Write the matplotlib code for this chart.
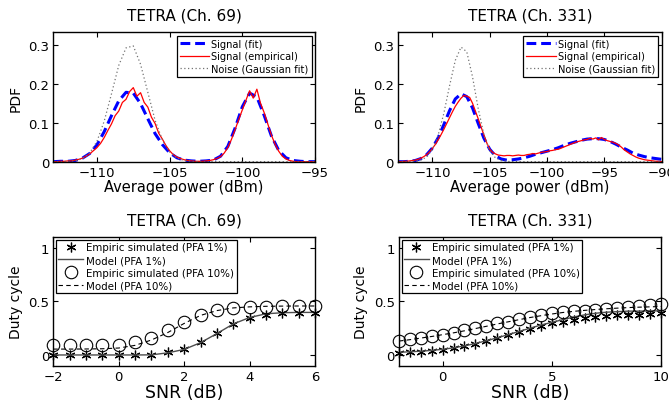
import numpy as np
import matplotlib
matplotlib.use("Agg")
import matplotlib.pyplot as plt
from matplotlib.ticker import FuncFormatter

plt.rcParams.update({
    "font.family": "DejaVu Sans",
    "axes.linewidth": 1.0,
    "xtick.direction": "in",
    "ytick.direction": "in",
    "xtick.top": True,
    "ytick.right": True,
    "xtick.major.size": 3.5,
    "ytick.major.size": 3.5,
    "xtick.major.width": 0.8,
    "ytick.major.width": 0.8,
    "xtick.labelsize": 9.5,
    "ytick.labelsize": 9.5,
})

# ---------------- top panels: PDF of average power ----------------
# Ch. 69 (x grid -113..-95)
x_fit_69 = np.arange(-113, -94.99, 0.5)
fit_69 = [
    0.000, 0.001, 0.001, 0.003,
    0.009, 0.021, 0.043, 0.077,
    0.118, 0.156, 0.178, 0.176,
    0.149, 0.110, 0.072, 0.044,
    0.023, 0.010, 0.004, 0.002,
    0.001, 0.002, 0.004, 0.014,
    0.039, 0.086, 0.141, 0.176,
    0.166, 0.119, 0.066, 0.029,
    0.010, 0.003, 0.001, 0.000,
    0.000,
]
noise_69 = [
    0.000, 0.000, 0.001, 0.002,
    0.008, 0.022, 0.052, 0.104,
    0.174, 0.247, 0.292, 0.297,
    0.250, 0.178, 0.106, 0.056,
    0.025, 0.009, 0.003, 0.001,
    0.000, 0.000, 0.000, 0.000,
    0.000, 0.000, 0.000, 0.000,
    0.000, 0.000, 0.000, 0.000,
    0.000, 0.000, 0.000, 0.000,
    0.000,
]
x_emp_69 = np.arange(-113, -94.99, 0.25)
emp_69 = [
    0.000, 0.000, 0.001, 0.001, 0.002, 0.002, 0.004, 0.006,
    0.009, 0.014, 0.020, 0.028, 0.036, 0.047, 0.062, 0.080,
    0.097, 0.118, 0.130, 0.152, 0.160, 0.180, 0.190, 0.168,
    0.177, 0.152, 0.140, 0.114, 0.098, 0.073, 0.058, 0.041,
    0.028, 0.018, 0.012, 0.008, 0.005, 0.003, 0.002, 0.001,
    0.001, 0.001, 0.002, 0.003, 0.005, 0.008, 0.013, 0.022,
    0.036, 0.057, 0.082, 0.108, 0.133, 0.158, 0.182, 0.163,
    0.186, 0.150, 0.126, 0.097, 0.068, 0.045, 0.027, 0.014,
    0.007, 0.003, 0.001, 0.000, 0.000, 0.000, 0.000, 0.000,
    0.000,
]

# Ch. 331 (x grid -113..-90)
x_fit_331 = np.arange(-113, -89.99, 0.5)
fit_331 = [
    0.000, 0.000, 0.001, 0.003,
    0.008, 0.018, 0.035, 0.061,
    0.095, 0.131, 0.161, 0.174,
    0.167, 0.138, 0.098, 0.060,
    0.032, 0.015, 0.007, 0.004,
    0.005, 0.007, 0.010, 0.014,
    0.019, 0.023, 0.027, 0.031,
    0.036, 0.042, 0.047, 0.051,
    0.055, 0.058, 0.059, 0.059,
    0.057, 0.052, 0.045, 0.037,
    0.030, 0.022, 0.017, 0.013,
    0.010, 0.008, 0.006,
]
noise_331 = [
    0.000, 0.000, 0.000, 0.001,
    0.004, 0.012, 0.031, 0.068,
    0.124, 0.195, 0.260, 0.294,
    0.282, 0.218, 0.136, 0.069,
    0.028, 0.010, 0.003, 0.001,
    0.000, 0.000, 0.000, 0.000,
    0.000, 0.000, 0.000, 0.000,
    0.000, 0.000, 0.000, 0.000,
    0.000, 0.000, 0.000, 0.000,
    0.000, 0.000, 0.000, 0.000,
    0.000, 0.000, 0.000, 0.000,
    0.000, 0.000, 0.000,
]
x_emp_331 = np.arange(-113, -89.99, 0.25)
emp_331 = [
    0.000, 0.000, 0.001, 0.001, 0.002, 0.003, 0.004, 0.006,
    0.009, 0.013, 0.018, 0.025, 0.034, 0.044, 0.056, 0.069,
    0.083, 0.098, 0.113, 0.128, 0.142, 0.153, 0.163, 0.170,
    0.168, 0.165, 0.150, 0.130, 0.110, 0.089, 0.068, 0.048,
    0.032, 0.024, 0.020, 0.017, 0.016, 0.015, 0.016, 0.016,
    0.015, 0.016, 0.017, 0.016, 0.016, 0.018, 0.019, 0.021,
    0.020, 0.022, 0.024, 0.025, 0.026, 0.028, 0.029, 0.031,
    0.032, 0.035, 0.038, 0.041, 0.044, 0.047, 0.050, 0.052,
    0.054, 0.056, 0.057, 0.060, 0.058, 0.061, 0.056, 0.062,
    0.057, 0.054, 0.052, 0.050, 0.047, 0.043, 0.037, 0.030,
    0.025, 0.020, 0.016, 0.012, 0.009, 0.007, 0.005, 0.004,
    0.003, 0.002, 0.001, 0.001, 0.000,
]

# ---------------- bottom panels: duty cycle vs SNR ----------------
snr_69 = np.arange(-2, 6.01, 0.5)
emp1_69 = [0.0, 0.0, 0.0, 0.0, 0.0, 0.0, 0.0, 0.03, 0.06, 0.125, 0.21,
           0.29, 0.345, 0.375, 0.39, 0.395, 0.395]
mod1_69 = [0.0, 0.0, 0.0, 0.0, 0.0, 0.0, 0.001, 0.02, 0.052, 0.115, 0.20,
           0.29, 0.35, 0.385, 0.395, 0.398, 0.398]
emp10_69 = [0.09, 0.09, 0.09, 0.09, 0.095, 0.12, 0.16, 0.23, 0.31, 0.37,
            0.42, 0.44, 0.45, 0.45, 0.455, 0.455, 0.46]
mod10_69 = [0.055, 0.055, 0.056, 0.058, 0.065, 0.09, 0.14, 0.21, 0.295,
            0.37, 0.415, 0.44, 0.45, 0.455, 0.457, 0.458, 0.458]

snr_331 = np.arange(-2, 10.01, 0.5)
emp1_331 = [0.022, 0.025, 0.03, 0.04, 0.05, 0.065, 0.085, 0.105, 0.135,
            0.16, 0.185, 0.215, 0.245, 0.27, 0.295, 0.31, 0.33, 0.35,
            0.355, 0.36, 0.37, 0.37, 0.375, 0.38, 0.39]
mod1_331 = [0.025, 0.03, 0.035, 0.043, 0.053, 0.067, 0.085, 0.107, 0.133,
            0.16, 0.19, 0.22, 0.25, 0.28, 0.305, 0.33, 0.355, 0.375, 0.39,
            0.40, 0.405, 0.41, 0.41, 0.412, 0.412]
emp10_331 = [0.135, 0.145, 0.16, 0.175, 0.19, 0.205, 0.23, 0.25, 0.275,
             0.295, 0.31, 0.34, 0.355, 0.37, 0.39, 0.40, 0.41, 0.415, 0.42,
             0.43, 0.44, 0.45, 0.46, 0.465, 0.48]
mod10_331 = [0.13, 0.143, 0.158, 0.173, 0.19, 0.207, 0.226, 0.247, 0.268,
             0.29, 0.31, 0.33, 0.35, 0.367, 0.383, 0.397, 0.408, 0.417,
             0.425, 0.432, 0.438, 0.443, 0.447, 0.45, 0.453]


def fmt(v, _pos):
    return f"{v:g}".replace("-", "\u2212")


def pdf_panel(ax, title, xf, fit, noise, xe, emp, xlim, xticks):
    ax.plot(xf, fit, color="blue", ls=(0, (3.2, 1.6)), lw=2.2, label="Signal (fit)")
    ax.plot(xe, emp, color="red", lw=0.9, label="Signal (empirical)")
    ax.plot(xf, noise, color="0.45", ls=(0, (1, 2)), lw=0.9,
            label="Noise (Gaussian fit)")
    ax.set_xlim(*xlim)
    ax.set_ylim(0, 0.332)
    ax.set_xticks(xticks)
    ax.set_yticks([0, 0.1, 0.2, 0.3])
    ax.xaxis.set_major_formatter(FuncFormatter(fmt))
    ax.yaxis.set_major_formatter(FuncFormatter(fmt))
    ax.set_title(title, fontsize=11, pad=9)
    ax.set_xlabel("Average power (dBm)", fontsize=10.5, labelpad=0)
    ax.set_ylabel("PDF", fontsize=10, labelpad=4)
    ax.tick_params(pad=3)
    leg = ax.legend(loc="upper right", fontsize=7.1, handlelength=3.0,
                    handletextpad=0.2, borderpad=0.3, labelspacing=0.25,
                    borderaxespad=0.35, fancybox=False, framealpha=1)
    leg.get_frame().set_edgecolor("black")
    leg.get_frame().set_linewidth(0.9)


def duty_panel(ax, title, snr, e1, m1, e10, m10, xlim, xticks):
    ax.plot(snr, e1, ls="none", marker=(6, 2, 0), ms=7, mec="black", mew=0.9,
            color="black", clip_on=False, label="Empiric simulated (PFA 1%)")
    ax.plot(snr, m1, color="0.3", lw=1.0, label="Model (PFA 1%)")
    ax.plot(snr, e10, ls="none", marker="o", ms=9, mfc="none", mec="black",
            mew=0.8, clip_on=False, label="Empiric simulated (PFA 10%)")
    ax.plot(snr, m10, color="black", ls=(0, (4, 3)), lw=0.8,
            label="Model (PFA 10%)")
    ax.set_xlim(*xlim)
    ax.set_ylim(-0.1, 1.1)
    ax.set_xticks(xticks)
    ax.set_yticks([0, 0.5, 1])
    ax.xaxis.set_major_formatter(FuncFormatter(fmt))
    ax.yaxis.set_major_formatter(FuncFormatter(fmt))
    ax.set_title(title, fontsize=11, pad=9)
    ax.set_xlabel("SNR (dB)", fontsize=12.5, labelpad=0)
    ax.set_ylabel("Duty cycle", fontsize=10, labelpad=4)
    ax.tick_params(pad=3)
    leg = ax.legend(loc="upper left", fontsize=7.4, handlelength=2.4,
                    handletextpad=0.3, borderpad=0.25, labelspacing=0.25,
                    borderaxespad=0.25, fancybox=False, framealpha=1)
    leg.get_frame().set_edgecolor("black")
    leg.get_frame().set_linewidth(0.9)


fig = plt.figure(figsize=(6.69, 4.10), dpi=100)
ax_tl = fig.add_axes([0.0797, 0.6032, 0.3912, 0.3156])
ax_tr = fig.add_axes([0.5949, 0.6032, 0.3941, 0.3156])
ax_bl = fig.add_axes([0.0797, 0.1057, 0.3912, 0.3130])
ax_br = fig.add_axes([0.5964, 0.1057, 0.3916, 0.3130])

pdf_panel(ax_tl, "TETRA (Ch. 69)", x_fit_69, fit_69, noise_69, x_emp_69, emp_69,
          (-113, -95), [-110, -105, -100, -95])
pdf_panel(ax_tr, "TETRA (Ch. 331)", x_fit_331, fit_331, noise_331, x_emp_331,
          emp_331, (-113, -90), [-110, -105, -100, -95, -90])
duty_panel(ax_bl, "TETRA (Ch. 69)", snr_69, emp1_69, mod1_69, emp10_69, mod10_69,
           (-2, 6), [-2, 0, 2, 4, 6])
duty_panel(ax_br, "TETRA (Ch. 331)", snr_331, emp1_331, mod1_331, emp10_331,
           mod10_331, (-2, 10), [0, 5, 10])

fig.savefig("out.png", dpi=100)
